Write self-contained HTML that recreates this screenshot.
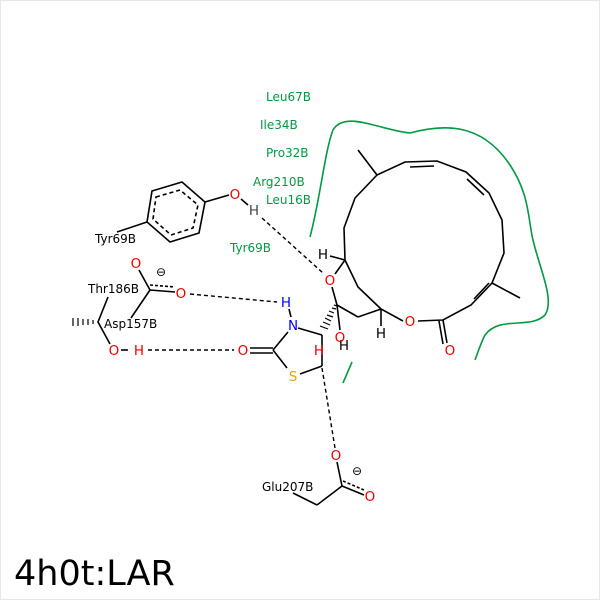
<!DOCTYPE html>
<html><head><meta charset="utf-8"><style>
html,body{margin:0;padding:0;background:#fff}
svg{display:block}
text{font-family:"DejaVu Sans","Liberation Sans",sans-serif;font-size:12px}
.a{font-size:13.5px;text-anchor:middle}
</style></head><body>
<svg width="600" height="600" viewBox="0 0 600 600" xmlns="http://www.w3.org/2000/svg">
<rect x="0.5" y="0.5" width="599" height="599" fill="#fff" stroke="#e8e8e8"/>
<g stroke="#000" stroke-width="1.6" fill="none">
<polyline points="381,309 358,287 345,260 344,228 355,198 377,175 405,162 437,161 466,172 489,193 502,220 504,253 492,283 471,305 443,320 418,321"/>
<line x1="403" y1="321" x2="381" y2="309"/>
<line x1="377" y1="175" x2="358" y2="150"/>
<line x1="492" y1="283" x2="520" y2="298"/>
<line x1="410" y1="167" x2="434" y2="166"/>
<line x1="467" y1="179" x2="484" y2="195"/>
<line x1="474" y1="299" x2="489" y2="283"/>
<line x1="443" y1="320" x2="447" y2="343"/>
<line x1="439" y1="321" x2="443" y2="344"/>
<line x1="381" y1="309" x2="381" y2="326"/>
<line x1="381" y1="309" x2="358" y2="317"/>
<line x1="358" y1="317" x2="337" y2="305"/>
<line x1="345" y1="260" x2="330" y2="256"/>
<line x1="345" y1="260" x2="335" y2="274"/>
<line x1="332" y1="287" x2="337" y2="305"/>
<line x1="337" y1="305" x2="340" y2="330"/>
<line x1="298" y1="328" x2="322" y2="335"/>
<line x1="288" y1="332" x2="273" y2="350"/>
<line x1="273" y1="350" x2="287" y2="368"/>
<line x1="300" y1="374" x2="322" y2="366"/>
<line x1="322" y1="335" x2="322" y2="366"/>
<line x1="289" y1="309" x2="291" y2="317"/>
<line x1="250" y1="348" x2="273" y2="348"/>
<line x1="250" y1="353" x2="273" y2="353"/>
<polygon points="152,191 182,182 205,202 199,233 170,242 147,222"/>
<polygon points="156,197 180,190 198,205 193,228 171,235 153,219" stroke-dasharray="4,3"/>
<line x1="147" y1="222" x2="117" y2="232"/>
<line x1="205" y1="202" x2="229" y2="195"/>
<line x1="241" y1="199" x2="248" y2="205"/>
<line x1="150" y1="290" x2="131" y2="318"/>
<line x1="150" y1="290" x2="175" y2="292"/>
<line x1="150" y1="290" x2="139" y2="270"/>
<line x1="150" y1="285" x2="175" y2="287" stroke-dasharray="3,2"/>
<line x1="108" y1="297" x2="98" y2="322"/>
<line x1="98" y1="322" x2="110" y2="344"/>
<line x1="121" y1="350" x2="128" y2="350"/>
<line x1="317" y1="505" x2="342" y2="486"/>
<line x1="342" y1="486" x2="364" y2="495"/>
<line x1="343" y1="481" x2="364" y2="490" stroke-dasharray="3,2"/>
<line x1="342" y1="486" x2="337" y2="462"/>
<line x1="317" y1="505" x2="293" y2="493"/>
</g>
<g stroke="#000" stroke-width="1.2">
<line x1="337" y1="306" x2="334" y2="305"/><line x1="336" y1="309" x2="332" y2="308"/><line x1="334" y1="313" x2="329" y2="311"/><line x1="333" y1="317" x2="327" y2="315"/><line x1="331" y1="321" x2="325" y2="318"/><line x1="330" y1="325" x2="323" y2="322"/><line x1="328" y1="329" x2="320" y2="326"/>
<line x1="98" y1="321" x2="98" y2="323"/><line x1="93" y1="320" x2="93" y2="324"/><line x1="88" y1="319" x2="88" y2="325"/><line x1="83" y1="319" x2="83" y2="325"/><line x1="78" y1="318" x2="78" y2="326"/><line x1="73" y1="318" x2="73" y2="326"/>
</g>
<g stroke="#000" stroke-width="1.4" stroke-dasharray="4,3" fill="none">
<line x1="262" y1="218" x2="323" y2="273"/>
<line x1="190" y1="294" x2="277" y2="302"/>
<line x1="148" y1="350" x2="234" y2="350"/>
<line x1="322" y1="368" x2="335" y2="448"/>
</g>
<path d="M310,237 C320,200 325,150 333,130 C345,110 380,130 410,133 C440,125 480,120 510,165 C530,195 528,220 533,240 C540,270 555,300 545,315 C530,330 500,315 485,335 C480,345 478,352 475,360" stroke="#009a44" stroke-width="1.6" fill="none"/>
<line x1="343" y1="383" x2="352" y2="362" stroke="#009a44" stroke-width="1.6"/>
<g fill="#009a44">
<text x="266" y="101">Leu67B</text>
<text x="260" y="129">Ile34B</text>
<text x="266" y="157">Pro32B</text>
<text x="253" y="186">Arg210B</text>
<text x="266" y="204">Leu16B</text>
<text x="230" y="252">Tyr69B</text>
</g>
<g fill="#000">
<text x="95" y="243">Tyr69B</text>
<text x="88" y="293">Thr186B</text>
<text x="104" y="328">Asp157B</text>
<text x="262" y="491">Glu207B</text>
<text class="a" x="323" y="259">H</text>
<text class="a" x="381" y="338">H</text>
<text class="a" x="344" y="350">H</text>
<text class="a" x="254" y="215" fill="#444">H</text>
<text x="156" y="276" font-size="15">⊖</text>
<text x="352" y="475" font-size="15">⊖</text>
</g>
<g fill="#e00">
<text class="a" x="235" y="199">O</text>
<text class="a" x="136" y="268">O</text>
<text class="a" x="181" y="298">O</text>
<text class="a" x="114" y="355">O</text>
<text class="a" x="139" y="355">H</text>
<text class="a" x="243" y="355">O</text>
<text class="a" x="330" y="285">O</text>
<text class="a" x="340" y="342">O</text>
<text class="a" x="319" y="355">H</text>
<text class="a" x="410" y="326">O</text>
<text class="a" x="450" y="355">O</text>
<text class="a" x="336" y="460">O</text>
<text class="a" x="370" y="501">O</text>
</g>
<text class="a" x="286" y="307" fill="#00f">H</text>
<text class="a" x="293" y="330" fill="#00f">N</text>
<text class="a" x="293" y="381" fill="#f0a000">S</text>
<text x="14" y="585" style="font-size:35px;font-family:'DejaVu Sans',sans-serif">4h0t:LAR</text>
</svg>
</body></html>
